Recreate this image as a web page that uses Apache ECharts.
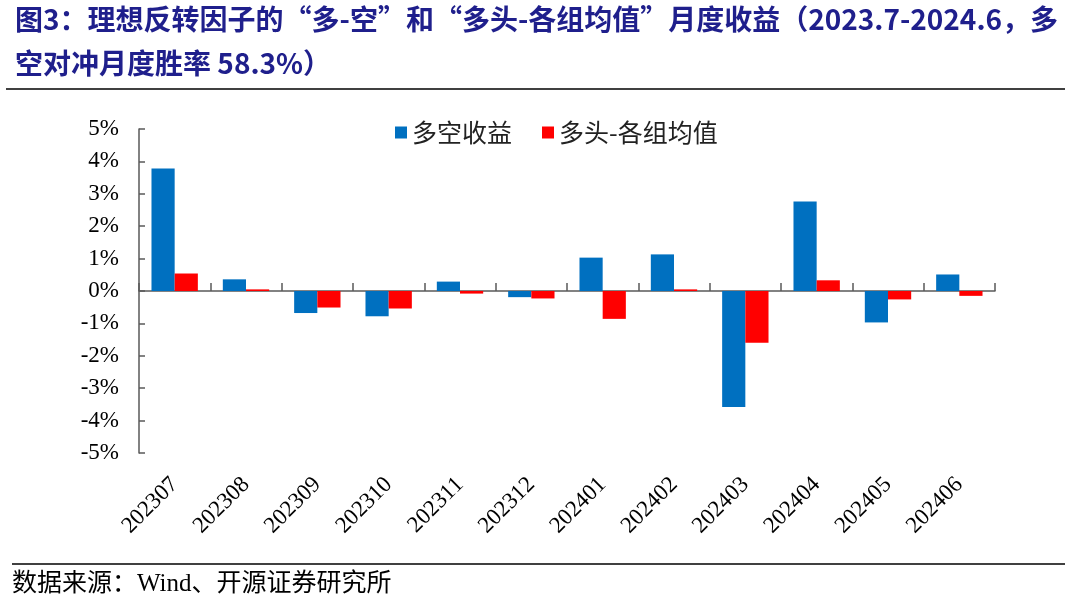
<!DOCTYPE html>
<html>
<head>
<meta charset="utf-8">
<script src="https://cdn.jsdelivr.net/npm/echarts@6/dist/echarts.min.js"></script>
<style>
html,body{margin:0;padding:0;background:#fff;}
#main{width:1080px;height:613px;}
</style>
</head>
<body>
<div id="main"></div>
<script>
const categories = ['202307','202308','202309','202310','202311','202312','202401','202402','202403','202404','202405','202406'];
const longShort = [3.78, 0.36, -0.68, -0.78, 0.29, -0.19, 1.03, 1.13, -3.58, 2.76, -0.97, 0.51];
const longMinusAvg = [0.54, 0.05, -0.51, -0.54, -0.08, -0.23, -0.86, 0.05, -1.60, 0.33, -0.26, -0.15];
const seriesNames = ['多空收益', '多头-各组均值'];
const titleLine1 = '图3：理想反转因子的“多-空”和“多头-各组均值”月度收益（2023.7-2024.6，多';
const titleLine2 = '空对冲月度胜率 58.3%）';
const sourceText = '数据来源：Wind、开源证券研究所';

const chart = echarts.init(document.getElementById('main'));
const serif = '"Liberation Serif", "Noto Sans CJK SC", serif';
const cjk = '"Noto Sans CJK SC", "Liberation Serif", sans-serif';
const axisColor = '#595959';
chart.setOption({
  animation: false,
  backgroundColor: '#fff',
  grid: { left: 139, right: 85, top: 129, bottom: 160, containLabel: false },
  legend: {
    left: 390, top: 115,
    itemWidth: 12, itemHeight: 12, itemGap: 30,
    icon: 'rect',
    textStyle: { fontSize: 25, color: '#222', fontFamily: '"Noto Sans CJK SC", sans-serif' },
    data: seriesNames
  },
  xAxis: [
    {
      type: 'category', data: categories, position: 'bottom',
      axisLine: { show: false, onZero: false }, axisTick: { show: false },
      axisLabel: { rotate: 45, margin: 28, fontSize: 23, color: '#000', fontFamily: serif, interval: 0 }
    },
    {
      type: 'category', data: categories, position: 'bottom',
      axisLine: { show: true, onZero: true, lineStyle: { color: axisColor, width: 1.5 } },
      axisTick: { show: true, inside: true, length: 8, lineStyle: { color: axisColor, width: 1.5 } },
      axisLabel: { show: false }
    }
  ],
  yAxis: {
    type: 'value', min: -5, max: 5, interval: 1,
    axisLine: { show: true, lineStyle: { color: axisColor, width: 1.5 } },
    axisTick: { show: true, inside: true, length: 6, lineStyle: { color: axisColor, width: 1.5 } },
    splitLine: { show: false },
    axisLabel: { formatter: '{value}%', fontSize: 23, color: '#000', fontFamily: serif, margin: 20 }
  },
  series: [
    { name: seriesNames[0], type: 'bar', data: longShort, itemStyle: { color: '#0070C0' }, barGap: '0%', barCategoryGap: '35%' },
    { name: seriesNames[1], type: 'bar', data: longMinusAvg, itemStyle: { color: '#FF0000' }, barGap: '0%', barCategoryGap: '35%' }
  ],
  graphic: [
    { type: 'text', left: 15, top: 5, style: { text: titleLine1, font: 'bold 28px ' + cjk, fill: '#1F1F8C' } },
    { type: 'text', left: 15, top: 49, style: { text: titleLine2, font: 'bold 28px ' + cjk, fill: '#1F1F8C' } },
    { type: 'line', shape: { x1: 6, y1: 89, x2: 1065, y2: 89 }, style: { stroke: '#404040', lineWidth: 2 } },
    { type: 'line', shape: { x1: 12, y1: 564, x2: 1065, y2: 564 }, style: { stroke: '#404040', lineWidth: 2 } },
    { type: 'text', left: 12, top: 572, style: { text: sourceText, font: '25px ' + serif, fill: '#000' } }
  ]
});
</script>
</body>
</html>
